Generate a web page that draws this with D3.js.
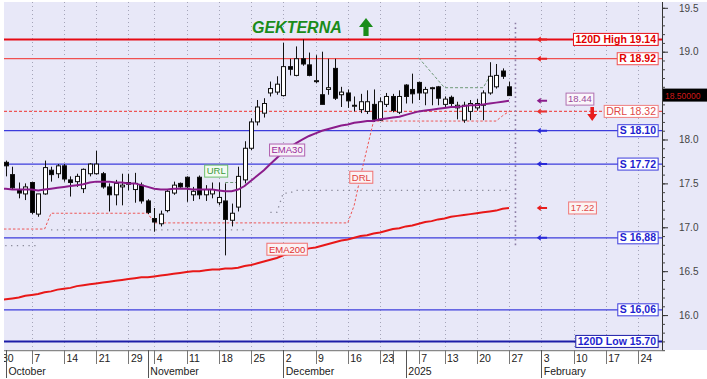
<!DOCTYPE html>
<html>
<head>
<meta charset="UTF-8">
<title>GEKTERNA</title>
<script src="https://cdnjs.cloudflare.com/ajax/libs/d3/7.8.5/d3.min.js"></script>
<style>
  body { margin: 0; background: #fff; }
  svg { display: block; font-family: "Liberation Sans", Arial, sans-serif; }
  .grid { stroke: #a4a4b8; stroke-dasharray: 1,3; }
  .wick { stroke: #111; stroke-width: 1; }
  .body { stroke: #111; stroke-width: 1; }
  .xtick { stroke: #777; }
  .xmonth { stroke: #555; }
  .xlab { font-size: 10.5px; fill: #222; }
</style>
</head>
<body>
<div id="chart"></div>
<script>
// trading days shown on the chart
const days = ["2024-09-30",
  "2024-10-01","2024-10-02","2024-10-03","2024-10-04","2024-10-07","2024-10-08","2024-10-09","2024-10-10","2024-10-11",
  "2024-10-14","2024-10-15","2024-10-16","2024-10-17","2024-10-18","2024-10-21","2024-10-22","2024-10-23","2024-10-24",
  "2024-10-25","2024-10-29","2024-10-30","2024-10-31",
  "2024-11-01","2024-11-04","2024-11-05","2024-11-06","2024-11-07","2024-11-08","2024-11-11","2024-11-12","2024-11-13",
  "2024-11-14","2024-11-15","2024-11-18","2024-11-19","2024-11-20","2024-11-21","2024-11-22","2024-11-25","2024-11-26",
  "2024-11-27","2024-11-28","2024-11-29",
  "2024-12-02","2024-12-03","2024-12-04","2024-12-05","2024-12-06","2024-12-09","2024-12-10","2024-12-11","2024-12-12",
  "2024-12-13","2024-12-16","2024-12-17","2024-12-18","2024-12-19","2024-12-20","2024-12-23","2024-12-24","2024-12-27",
  "2024-12-30",
  "2025-01-02","2025-01-03","2025-01-07","2025-01-08","2025-01-09","2025-01-10","2025-01-13","2025-01-14","2025-01-15",
  "2025-01-16","2025-01-17","2025-01-20","2025-01-21","2025-01-22","2025-01-23","2025-01-24","2025-01-27"];

const open = [17.74,17.74,17.60,17.43,17.38,17.51,17.15,17.38,17.65,17.61, 17.70,17.54,17.52,17.44,17.61,17.61,17.61,17.46,17.37,17.46,
  17.49,17.43,17.48,17.30,17.10,17.04,17.19,17.39,17.50,17.57, 17.37,17.57,17.37,17.38,17.28,17.30,17.08,17.23,17.54,17.90,
  18.20,18.30,18.53,18.54,18.50,18.83,18.73,18.92,18.85,18.66, 18.51,18.57,18.81,18.51,18.53,18.38,18.34,18.32,18.40,18.22,
  18.40,18.49,18.31,18.62,18.57,18.65,18.53,18.58,18.60,18.40, 18.48,18.36,18.22,18.32,18.36,18.39,18.53,18.60,18.78,18.60];
const high = [17.78,17.76,17.69,17.51,17.50,17.52,17.38,17.76,17.69,17.72, 17.72,17.58,17.61,17.67,17.73,17.87,17.63,17.50,17.54,17.61,
  17.61,17.62,17.51,17.32,17.22,17.19,17.43,17.52,17.51,17.58, 17.46,17.59,17.48,17.51,17.51,17.50,17.27,17.69,17.98,18.24,
  18.45,18.47,18.66,18.72,19.10,18.92,19.06,19.14,18.99,18.96, 19.00,18.92,18.92,18.60,18.57,18.49,18.52,18.56,18.57,18.48,
  18.53,18.52,18.56,18.63,18.75,18.66,18.60,18.60,18.61,18.49, 18.50,18.43,18.43,18.45,18.46,18.56,18.88,18.86,18.81,18.66];
const low = [17.50,17.58,17.43,17.33,17.31,17.15,17.12,17.37,17.52,17.56, 17.52,17.35,17.46,17.39,17.58,17.60,17.44,17.18,17.25,17.25,
  17.42,17.28,17.27,17.15,16.95,17.01,17.17,17.37,17.45,17.29, 17.30,17.32,17.30,17.33,17.25,16.68,17.01,17.18,17.50,17.88,
  18.16,18.25,18.49,18.51,18.49,18.73,18.72,18.84,18.72,18.64, 18.40,18.51,18.45,18.37,18.36,18.32,18.30,18.29,18.20,18.21,
  18.37,18.31,18.29,18.41,18.41,18.45,18.39,18.39,18.39,18.36, 18.38,18.23,18.19,18.22,18.33,18.22,18.51,18.58,18.69,18.50];
const close = [17.56,17.70,17.45,17.39,17.46,17.17,17.38,17.68,17.60,17.70, 17.55,17.51,17.58,17.66,17.72,17.72,17.46,17.37,17.50,17.48,
  17.51,17.50,17.30,17.17,17.06,17.15,17.41,17.48,17.46,17.46, 17.41,17.37,17.43,17.43,17.34,17.09,17.16,17.58,17.90,18.20,
  18.37,18.41,18.58,18.63,18.83,18.80,18.92,18.86,18.73,18.67, 18.40,18.59,18.47,18.54,18.44,18.39,18.43,18.43,18.23,18.43,
  18.49,18.33,18.49,18.49,18.52,18.53,18.57,18.59,18.47,18.46, 18.41,18.39,18.39,18.41,18.41,18.53,18.72,18.73,18.72,18.50];

const ema30 = [17.44,17.44,17.43,17.43,17.43,17.43,17.42,17.43,17.44,17.45, 17.46,17.47,17.48,17.49,17.51,17.52,17.52,17.52,17.51,17.51,
  17.50,17.50,17.48,17.46,17.44,17.43,17.43,17.44,17.44,17.44, 17.43,17.43,17.43,17.43,17.42,17.41,17.41,17.43,17.47,17.53,
  17.59,17.65,17.72,17.79,17.86,17.91,17.96,18.00,18.04,18.07, 18.10,18.12,18.14,18.16,18.17,18.19,18.20,18.21,18.21,18.23,
  18.24,18.25,18.26,18.28,18.30,18.32,18.33,18.34,18.35,18.36, 18.37,18.37,18.38,18.39,18.39,18.40,18.41,18.42,18.43,18.44];
const ema200 = [16.17,16.18,16.19,16.20,16.22,16.23,16.24,16.26,16.27,16.29, 16.30,16.31,16.33,16.34,16.35,16.36,16.37,16.38,16.39,16.40,
  16.41,16.42,16.43,16.43,16.44,16.45,16.46,16.47,16.48,16.49, 16.50,16.50,16.51,16.52,16.52,16.53,16.53,16.54,16.56,16.57,
  16.59,16.61,16.63,16.65,16.68,16.70,16.72,16.74,16.76,16.77, 16.79,16.81,16.83,16.85,16.86,16.88,16.90,16.91,16.93,16.94,
  16.96,16.98,16.99,17.01,17.02,17.04,17.06,17.07,17.09,17.10, 17.12,17.13,17.14,17.15,17.16,17.17,17.18,17.19,17.21,17.22];
const drl = [16.98,16.98,16.98,16.98,16.98,16.98,16.98,16.98,17.16,17.16, 17.16,17.16,17.16,17.16,17.16,17.16,17.16,17.16,17.16,17.16,
  17.16,17.16,17.16,17.16,17.05,17.05,17.05,17.05,17.05,17.05, 17.05,17.05,17.05,17.05,17.05,17.05,17.05,17.05,17.05,17.05,
  17.05,17.05,17.05,17.05,17.05,17.05,17.05,17.05,17.05,17.05, 17.05,17.05,17.05,17.05,17.05,17.25,17.59,17.90,18.21,18.21,
  18.21,18.21,18.21,18.21,18.21,18.21,18.21,18.21,18.21,18.21, 18.21,18.21,18.21,18.21,18.21,18.21,18.21,18.21,18.27,18.32];
// [day index, value] vertices, null breaks the line
const stopLine = [[0,16.79],[6,16.79],null,[8,16.97],[38,16.97],null,[42,17.17],[43,17.17],[44,17.39],[45,17.39],[46,17.42],[79,17.42]];
const urlLine = [[35,17.51],[37,17.51],null,[65,18.93],[69,18.59],[75,18.59],[76,18.72]];

const levels = [
  {label: "120D High 19.14", value: 19.14, kind: "high"},
  {label: "R 18.92", value: 18.92, kind: "res"},
  {label: "DRL 18.32", value: 18.32, kind: "drl"},
  {label: "S 18.10", value: 18.10, kind: "sup"},
  {label: "S 17.72", value: 17.72, kind: "sup"},
  {label: "S 16,88", value: 16.88, kind: "sup"},
  {label: "S 16,06", value: 16.06, kind: "sup"},
  {label: "120D Low 15.70", value: 15.70, kind: "low"}
];
const arrowValues = [19.14, 18.92, 18.44, 18.32, 18.10, 17.72, 17.22, 16.88];
const arrowKinds = ["res", "res", "ema30", "drl", "sup", "sup", "ema200", "sup"];

const weekTicks = [[0,"30"],[5,"7"],[10,"14"],[15,"21"],[20,"29"],[24,"4"],[29,"11"],[34,"18"],[39,"25"],[44,"2"],[49,"9"],
  [54,"16"],[59,"23"],[61,""],[65,"7"],[69,"13"],[74,"20"],[79,"27"],[84,"3"],[89,"10"],[94,"17"],[99,"24"]];
const months = [[1,"October"],[23,"November"],[44,"December"],[63,"2025"],[84,"February"]];
const yTicks = [16.0, 16.5, 17.0, 17.5, 18.0, 18.5, 19.0, 19.5];
const lastPrice = 18.5;

const W = 707, H = 379;
const plotL = 4, plotT = 2, plotR = 662, plotB = 350;

const x = d3.scaleLinear().domain([0, 100]).range([-0.55, 644.45]);
const y = d3.scaleLinear().domain([15.6, 19.5]).range([350.2, 7.8]);

const colors = {
  high: "#e60a14", res: "#f05050", drl: "#ee5555", sup: "#3c3cdc", low: "#1c1ca8",
  ema30: "#8b1c8b", ema200: "#e81818"
};
const textColors = { high: "#e00000", res: "#e00000", drl: "#e04848", sup: "#1e1ed0", low: "#1e1ed0" };

const svg = d3.select("#chart").append("svg").attr("width", W).attr("height", H);

svg.append("rect").attr("width", W).attr("height", H).attr("fill", "#fff");
svg.append("rect").attr("x", plotL).attr("y", plotT).attr("width", W - plotL).attr("height", plotB - plotT).attr("fill", "#e8e8f8");

svg.append("clipPath").attr("id", "plot")
  .append("rect").attr("x", plotL).attr("y", plotT).attr("width", plotR - plotL).attr("height", plotB - plotT);
svg.append("clipPath").attr("id", "xaxis")
  .append("rect").attr("x", plotL).attr("y", plotB).attr("width", plotR - plotL).attr("height", H - plotB);

const plot = svg.append("g").attr("clip-path", "url(#plot)");

// vertical grid
plot.selectAll(".grid").data(weekTicks.filter(d => d[1] !== "")).join("line")
  .attr("class", "grid")
  .attr("x1", d => Math.round(x(d[0])) + 0.5).attr("x2", d => Math.round(x(d[0])) + 0.5)
  .attr("y1", plotT).attr("y2", plotB);

// level lines
plot.selectAll(".level").data(levels).join("line")
  .attr("x1", plotL).attr("x2", plotR)
  .attr("y1", d => y(d.value)).attr("y2", d => y(d.value))
  .attr("stroke", d => colors[d.kind])
  .attr("stroke-width", d => (d.kind === "high" || d.kind === "low") ? 2 : 1.2)
  .attr("stroke-dasharray", d => d.kind === "drl" ? "3,2" : null);

const pairLine = d3.line().defined(d => d !== null).x(d => x(d[0])).y(d => y(d[1]));
const seriesLine = d3.line().x((d, i) => x(i)).y(d => y(d));

plot.append("path").attr("d", pairLine(stopLine)).attr("fill", "none")
  .attr("stroke", "#8a8a9a").attr("stroke-width", 1.3).attr("stroke-dasharray", "1.3,4.5");
plot.append("path").attr("d", pairLine(urlLine)).attr("fill", "none")
  .attr("stroke", "#6f9a78").attr("stroke-width", 1).attr("stroke-dasharray", "3,2");
plot.append("path").attr("d", seriesLine(drl)).attr("fill", "none")
  .attr("stroke", colors.drl).attr("stroke-width", 1).attr("stroke-dasharray", "2.5,2");
plot.append("path").attr("d", seriesLine(ema200)).attr("fill", "none")
  .attr("stroke", colors.ema200).attr("stroke-width", 2);

// today marker
plot.append("line")
  .attr("x1", x(days.length)).attr("x2", x(days.length))
  .attr("y1", y(19.33)).attr("y2", y(16.76))
  .attr("stroke", "#8c7ca4").attr("stroke-width", 1.6).attr("stroke-dasharray", "1.6,3");

// candles
const ix = d3.range(days.length);
const cx = i => Math.round(x(i)) + 0.5;
plot.selectAll(".wick").data(ix).join("line").attr("class", "wick")
  .attr("x1", cx).attr("x2", cx)
  .attr("y1", i => y(high[i])).attr("y2", i => y(low[i]));
plot.selectAll(".body").data(ix).join("rect").attr("class", "body")
  .attr("x", i => cx(i) - 2)
  .attr("y", i => y(Math.max(open[i], close[i])))
  .attr("width", 4)
  .attr("height", i => Math.max(1, Math.abs(y(open[i]) - y(close[i]))))
  .attr("fill", i => close[i] >= open[i] ? "#fff" : "#000");

plot.append("path").attr("d", seriesLine(ema30)).attr("fill", "none")
  .attr("stroke", colors.ema30).attr("stroke-width", 2);

// small boxed labels
function tag(parent, str, px, py, color, opt) {
  const g = parent.append("g");
  const t = g.append("text")
    .attr("x", px).attr("y", py).attr("dy", "0.35em")
    .attr("text-anchor", opt.anchor || "middle")
    .attr("font-size", opt.size || 9.5)
    .attr("font-weight", opt.bold ? "bold" : "normal")
    .attr("fill", color).text(str);
  const b = t.node().getBBox();
  g.insert("rect", "text")
    .attr("x", b.x - 2).attr("y", py - 6).attr("width", b.width + 4).attr("height", 12)
    .attr("fill", opt.fill || "#fff").attr("stroke", opt.border || color).attr("stroke-width", 1);
  return g;
}

// level tags at the right side
levels.forEach(d => {
  tag(plot, d.label, 656, y(d.value), textColors[d.kind],
    {anchor: "end", size: 10.5, bold: d.kind !== "drl", border: d.kind === "drl" ? "#f08080" : colors[d.kind]});
});

tag(plot, "URL", x(33.6), y(17.64), "#3c9a3c", {fill: "#f2fbf2", border: "#6cbf6c"});
tag(plot, "EMA30", x(44.6), y(17.88), "#9a2a9a", {fill: "#f7f1f8", border: "#b060b0"});
tag(plot, "DRL", x(56.1), y(17.57), "#e04040", {fill: "#fbf2f4", border: "#f07070"});
tag(plot, "EMA200", x(44.6), y(16.75), "#e03030", {fill: "#fbf2f4", border: "#f07070"});
tag(plot, "18.44", x(90), y(18.46), "#9a4a9a", {fill: "#fbf6fb", border: "#b070b0"});
tag(plot, "17.22", x(90.4), y(17.22), "#e04848", {fill: "#fbf4f4", border: "#f07878"});

// level arrows
const arrowColor = {res: "#e81c1c", drl: "#e83030", sup: "#2828d8", ema30: "#8b1c8b", ema200: "#e81c1c"};
arrowValues.forEach((v, k) => {
  const tx = x(83.3), ex = x(84.9), ay = y(v);
  plot.append("path")
    .attr("d", `M${tx},${ay} L${tx + 4},${ay - 3} L${tx + 4},${ay - 1} L${ex},${ay - 1} L${ex},${ay + 1} L${tx + 4},${ay + 1} L${tx + 4},${ay + 3} Z`)
    .attr("fill", arrowColor[arrowKinds[k]]);
});

// red down arrow
{
  const ax = x(91.9), y0 = y(18.37), y1 = y(18.21);
  plot.append("path")
    .attr("d", `M${ax - 1.8},${y0} L${ax + 1.8},${y0} L${ax + 1.8},${y1 - 7} L${ax + 5},${y1 - 7} L${ax},${y1} L${ax - 5},${y1 - 7} L${ax - 1.8},${y1 - 7} Z`)
    .attr("fill", "#e81c1c");
}

// title
svg.append("text").attr("x", 252).attr("y", 32.5)
  .attr("font-size", 16).attr("font-weight", "bold").attr("font-style", "italic")
  .attr("fill", "#1a8c1a").text("GEKTERNA");
{
  const ax = 366, t0 = 18;
  svg.append("path")
    .attr("d", `M${ax},${t0} L${ax + 7},${t0 + 9} L${ax + 2.6},${t0 + 9} L${ax + 2.6},${t0 + 18} L${ax - 2.6},${t0 + 18} L${ax - 2.6},${t0 + 9} L${ax - 7},${t0 + 9} Z`)
    .attr("fill", "#1a8c1a");
}

// right y axis (the 18.5 label sits under the last-price box)
const yAxisG = svg.append("g").attr("transform", `translate(${plotR},0)`);
yAxisG.append("line").attr("x1", 0.5).attr("x2", 0.5).attr("y1", plotT).attr("y2", plotB).attr("stroke", "#333");
yAxisG.append("g")
  .call(d3.axisRight(y).tickValues(d3.range(156, 196).map(v => v / 10)).tickSize(3).tickFormat(""))
  .call(a => a.select(".domain").remove())
  .call(a => a.selectAll("line").attr("stroke", "#444"));
yAxisG.append("g")
  .call(d3.axisRight(y).tickValues(yTicks).tickSize(6).tickPadding(11)
    .tickFormat(v => v === lastPrice ? "" : d3.format(".1f")(v)))
  .call(a => a.select(".domain").remove())
  .call(a => a.selectAll("line").attr("stroke", "#333"))
  .call(a => a.selectAll("text").attr("font-size", 10).attr("fill", "#444").attr("font-family", "Liberation Sans, Arial, sans-serif"));

// last price box
svg.append("rect").attr("x", plotR + 1).attr("y", y(lastPrice) - 7).attr("width", W - plotR - 1).attr("height", 13).attr("fill", "#000");
svg.append("text").attr("x", plotR + 3).attr("y", y(lastPrice)).attr("dy", "0.35em")
  .attr("font-size", 8.5).attr("fill", "#d01818").text(lastPrice.toFixed(5));

// x axis
const xa = svg.append("g").attr("clip-path", "url(#xaxis)");
xa.append("line").attr("x1", plotL).attr("x2", plotR).attr("y1", plotB + 0.5).attr("y2", plotB + 0.5)
  .attr("stroke", "#888").attr("stroke-width", 1.5);
xa.selectAll(".xtick").data(weekTicks).join("line").attr("class", "xtick")
  .attr("x1", d => Math.round(x(d[0])) + 0.5).attr("x2", d => Math.round(x(d[0])) + 0.5)
  .attr("y1", plotB).attr("y2", plotB + 14);
xa.selectAll(".xl").data(weekTicks).join("text").attr("class", "xlab")
  .attr("x", d => x(d[0]) + 2.5).attr("y", plotB + 11.5).text(d => d[1]);
xa.selectAll(".xmonth").data(months).join("line").attr("class", "xmonth")
  .attr("x1", d => Math.round(x(d[0])) + 0.5).attr("x2", d => Math.round(x(d[0])) + 0.5)
  .attr("y1", plotB).attr("y2", H - 1);
xa.selectAll(".ml").data(months).join("text").attr("class", "xlab")
  .attr("x", d => x(d[0]) + 2.5).attr("y", plotB + 25).text(d => d[1]);
</script>
</body>
</html>
